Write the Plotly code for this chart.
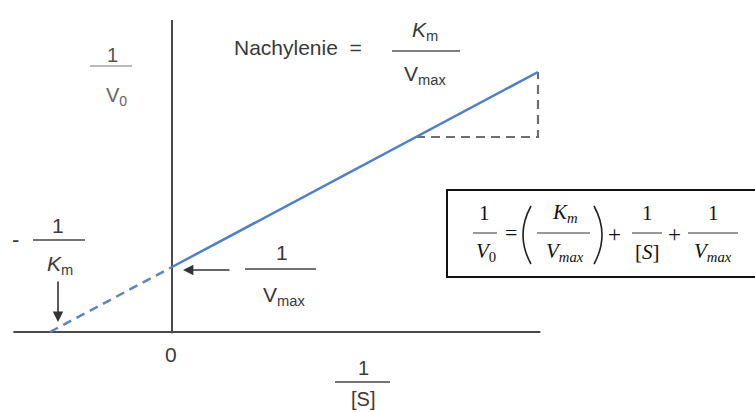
import plotly.graph_objects as go

# ---- schematic data (Lineweaver-Burk, arbitrary units) ----
inv_s_solid = [0.0, 3.0]        # 1/[S] for measured part
inv_v0_solid = [1.0, 4.0]       # 1/V0
inv_s_dash = [-1.0, 0.0]        # extrapolated part to -1/Km
inv_v0_dash = [0.0, 1.0]
tri_x = [2.0, 3.0, 3.0]         # slope triangle
tri_y = [3.0, 3.0, 4.0]
xaxis_line_x = [-1.30, 3.02]
xaxis_line_y = [0.0, 0.0]
yaxis_line_x = [0.0, 0.0]
yaxis_line_y = [-0.02, 4.80]

W, H = 755, 412
X0, Y0, UX, UY = 172, 332, 122, 65   # layout: pixel of origin and pixels per unit
xr = [(0 - X0) / UX, (W - X0) / UX]
yr = [(Y0 - H) / UY, Y0 / UY]

def px(x):
    return x / W

def py(y):
    return 1 - y / H

fig = go.Figure()
fig.add_trace(go.Scatter(x=xaxis_line_x, y=xaxis_line_y, mode="lines",
                         line=dict(color="#4a4a4a", width=2), hoverinfo="skip"))
fig.add_trace(go.Scatter(x=yaxis_line_x, y=yaxis_line_y, mode="lines",
                         line=dict(color="#4a4a4a", width=2), hoverinfo="skip"))
fig.add_trace(go.Scatter(x=tri_x, y=tri_y, mode="lines",
                         line=dict(color="#6e6e6e", width=2.2, dash="9px,6px"), hoverinfo="skip"))
fig.add_trace(go.Scatter(x=inv_s_dash, y=inv_v0_dash, mode="lines",
                         line=dict(color="#5b84c4", width=2.5, dash="9px,6px"), hoverinfo="skip"))
fig.add_trace(go.Scatter(x=inv_s_solid, y=inv_v0_solid, mode="lines",
                         line=dict(color="#4f7fc4", width=2.5), hoverinfo="skip"))

SANS = "Liberation Sans, Arial, sans-serif"
SERIF = "Liberation Serif, DejaVu Serif, serif"
annots = []
shapes = []

def txt(x, y, s, size=21, color="#3a3a3a", family=SANS, xanchor="center"):
    annots.append(dict(x=px(x), y=py(y), xref="paper", yref="paper", text=s,
                       showarrow=False, xanchor=xanchor, yanchor="middle",
                       font=dict(size=size, color=color, family=family)))

def hline(x1, x2, y, color="#555", width=1.2):
    shapes.append(dict(type="line", xref="paper", yref="paper",
                       x0=px(x1), x1=px(x2), y0=py(y), y1=py(y),
                       line=dict(color=color, width=width)))

def paren(xe, xm, y1, y2):
    ym = (y1 + y2) / 2
    path = (f"M {px(xe)} {py(y1)} Q {px(xm)} {py(ym)} {px(xe)} {py(y2)}")
    shapes.append(dict(type="path", xref="paper", yref="paper", path=path,
                       line=dict(color="#222", width=1.6)))

def arrow(x, y, ax, ay):
    annots.append(dict(x=px(x), y=py(y), xref="paper", yref="paper",
                       ax=ax, ay=ay, axref="pixel", ayref="pixel",
                       showarrow=True, arrowhead=2, arrowsize=1.3, arrowwidth=1.6,
                       arrowcolor="#333", text=""))

# 1/V0 label
txt(112, 55, "1", 20, "#555")
hline(90, 132, 66, "#777", 1)
txt(116, 96, "V<sub>0</sub>", 20, "#666")

# Slope label
txt(232, 48, "Nachylenie  =", 21, "#3a3a3a", xanchor="left")
txt(425, 31, "<i>K</i><sub>m</sub>", 21, "#3a3a3a")
hline(392, 460, 51, "#555", 1.3)
txt(425, 75, "V<sub>max</sub>", 21, "#3a3a3a")

# -1/Km label
txt(15, 240, "-", 22, "#3a3a3a")
txt(58, 225, "1", 21, "#3a3a3a")
hline(33, 85, 240, "#444", 1.3)
txt(60, 265, "<i>K</i><sub>m</sub>", 21, "#3a3a3a")
arrow(58, 322, 0, -42)

# 1/Vmax label
txt(282, 253, "1", 21, "#3a3a3a")
hline(245, 316, 269, "#444", 1.3)
txt(284, 296, "V<sub>max</sub>", 21, "#3a3a3a")
arrow(183, 270, 48, 0)

# 0 and 1/[S]
txt(171, 354, "0", 21, "#3a3a3a")
txt(363, 368, "1", 20, "#3a3a3a")
hline(335, 390, 382, "#444", 1.3)
txt(363, 399, "[S]", 20, "#3a3a3a")

# Equation box
shapes.append(dict(type="rect", xref="paper", yref="paper",
                   x0=px(447), x1=px(756), y0=py(190), y1=py(277),
                   line=dict(color="#111", width=2), fillcolor="white", layer="below"))
EQ = 21
txt(485, 213, "1", EQ, "#111", SERIF)
hline(473, 497, 233, "#333", 1)
txt(486, 252, "<i>V</i><sub>0</sub>", EQ, "#111", SERIF)
txt(511, 232, "=", 22, "#111", SERIF)
paren(531, 515, 206, 264)
paren(594, 610, 206, 264)
txt(565, 213, "<i>K<sub>m</sub></i>", EQ, "#111", SERIF)
hline(537, 590, 233, "#333", 1)
txt(565, 252, "<i>V<sub>max</sub></i>", EQ, "#111", SERIF)
txt(614, 234, "+", 23, "#111", SERIF)
txt(647, 213, "1", EQ, "#111", SERIF)
hline(632, 662, 233, "#333", 1)
txt(647, 252, "[<i>S</i>]", EQ, "#111", SERIF)
txt(674, 234, "+", 23, "#111", SERIF)
txt(713, 213, "1", EQ, "#111", SERIF)
hline(688, 738, 233, "#333", 1)
txt(713, 252, "<i>V<sub>max</sub></i>", EQ, "#111", SERIF)

fig.update_layout(
    width=W, height=H, margin=dict(l=0, r=0, t=0, b=0),
    paper_bgcolor="white", plot_bgcolor="white", showlegend=False,
    xaxis=dict(range=xr, visible=False, fixedrange=True),
    yaxis=dict(range=yr, visible=False, fixedrange=True),
    annotations=annots, shapes=shapes,
)
fig.write_html("out.html", config={"displayModeBar": False},
               post_script="document.body.style.margin='0';document.body.style.overflow='hidden';")
